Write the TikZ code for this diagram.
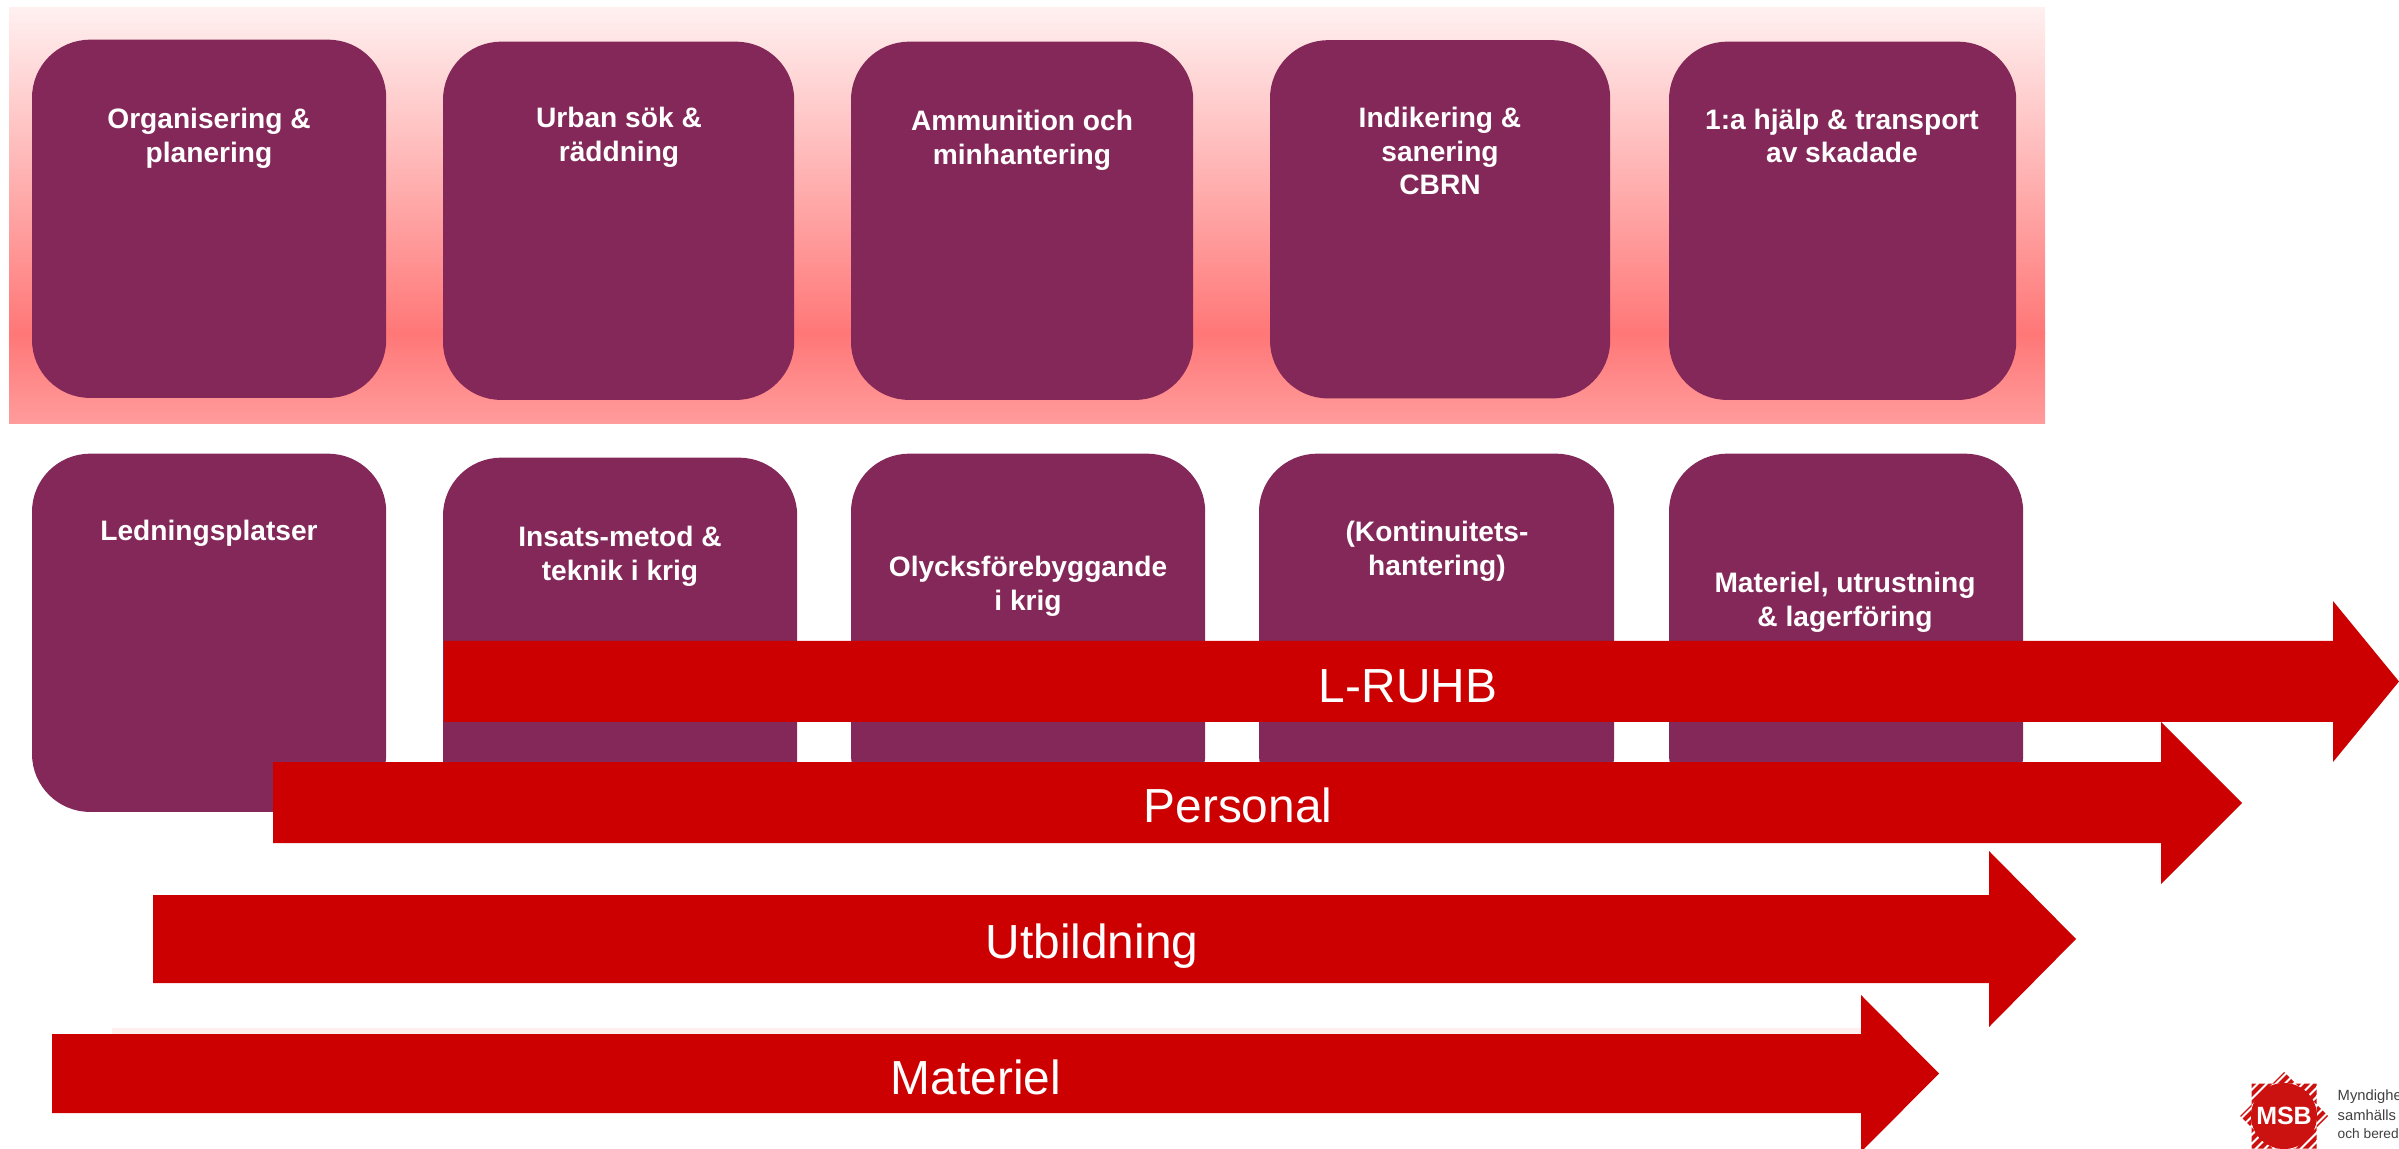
\documentclass[tikz,border=0pt]{standalone}
\usepackage{fontspec}
\setmainfont{Liberation Sans}
\definecolor{boxplum}{HTML}{832858}
\definecolor{arrowred}{HTML}{CC0000}
\definecolor{logored}{HTML}{CC1111}
\definecolor{bandtop}{HTML}{FFF0F0}
\definecolor{bandmid}{HTML}{FF7777}
\definecolor{bandlow}{HTML}{FF9C9C}
\tikzset{
	planbox/.style={fill=boxplum, rounded corners=0.58cm, anchor=north west, inner sep=0pt, minimum height=3.58cm},
	boxtext/.style={text=white, align=center, inner sep=0pt, font=\fontsize{8}{9.6}\selectfont\bfseries},
	arrowtext/.style={text=white, inner sep=0pt, font=\fontsize{13.6}{16}\selectfont},
	logotext/.style={text=black!75, anchor=west, inner sep=0pt, font=\fontsize{4.2}{5}\selectfont},
}

\begin{document}
\begin{tikzpicture}[x=0.01cm, y=-0.01cm]
	%%%%% START %%%%%
	\useasboundingbox (0, 0) rectangle (2399, 1149);
	\clip (0, 0) rectangle (2399, 1149);
	
	\shade[top color=bandtop, bottom color=bandmid] (9, 8) rectangle (2045, 334);
	\shade[top color=bandmid, bottom color=bandlow] (9, 333) rectangle (2045, 424);
	
	\node[planbox, minimum width=3.54cm] (org) at (31.3, 39) {};
	\node[planbox, minimum width=3.51cm] (urban) at (442.3, 41) {};
	\node[planbox, minimum width=3.42cm] (ammo) at (850.3, 41) {};
	\node[planbox, minimum width=3.40cm] (cbrn) at (1269.3, 39.5) {};
	\node[planbox, minimum width=3.47cm] (aid) at (1668.3, 41) {};
	
	\node[boxtext] (orgtext) at (209, 138) {Organisering \&\\planering};
	\node[boxtext] (urbantext) at (619, 137.5) {Urban sök \&\\räddning};
	\node[boxtext] (ammotext) at (1022, 140) {Ammunition och\\minhantering};
	\node[boxtext] (cbrntext) at (1440, 151) {Indikering \&\\sanering\\CBRN};
	\node[boxtext] (aidtext) at (1842, 136) {1:a hjälp \& transport\\av skadade};
	
	\node[planbox, minimum width=3.54cm] (lead) at (31.3, 453) {};
	\node[planbox, minimum width=3.54cm] (method) at (442.3, 457) {};
	\node[planbox, minimum width=3.54cm] (safety) at (850.3, 453) {};
	\node[planbox, minimum width=3.55cm] (cont) at (1258.3, 453) {};
	\node[planbox, minimum width=3.54cm] (gear) at (1668.3, 453) {};
	
	\node[boxtext] (leadtext) at (209, 533) {Ledningsplatser};
	\node[boxtext] (methodtext) at (620, 556) {Insats-metod \&\\teknik i krig};
	\node[boxtext] (safetytext) at (1028, 586) {Olycksförebyggande\\i krig};
	\node[boxtext] (conttext) at (1437, 551.5) {(Kontinuitets-\\hantering)};
	\node[boxtext] (geartext) at (1845, 602) {Materiel, utrustning\\\& lagerföring};
	
	\fill[arrowred] (444, 641) -- (2333, 641) -- (2333, 601) -- (2399, 681.5) -- (2333, 762) -- (2333, 722) -- (444, 722) -- cycle;
	\node[arrowtext] (ruhb) at (1408, 686) {L-RUHB};
	
	\fill[arrowred] (273, 762) -- (2161, 762) -- (2161, 722) -- (2242, 803) -- (2161, 884) -- (2161, 843) -- (273, 843) -- cycle;
	\node[arrowtext] (staff) at (1238, 805) {Personal};
	
	\fill[arrowred] (153, 895) -- (1989, 895) -- (1989, 851) -- (2076, 939) -- (1989, 1027) -- (1989, 983) -- (153, 983) -- cycle;
	\node[arrowtext] (course) at (1092, 946) {Utbildning};
	
	\fill[bandtop] (112, 1028) rectangle (1861, 1034);
	\fill[arrowred] (52, 1034) -- (1861, 1034) -- (1861, 995) -- (1939, 1073.5) -- (1861, 1152) -- (1861, 1113) -- (52, 1113) -- cycle;
	\node[arrowtext] (stock) at (976, 1077) {Materiel};
	
	\begin{scope}
		\clip (2251.5, 1083.5) rectangle (2316.5, 1148.5) (2284, 1072) -- (2328, 1116) -- (2284, 1160) -- (2240, 1116) -- cycle;
		\foreach \d in {-99, -90, ..., 99}
			\draw[logored, line width=0.04cm] (2184+\d, 1216) -- (2384+\d, 1016);
	\end{scope}
	\fill[logored] (2284, 1116) circle (33);
	\node[text=white, inner sep=0pt, font=\fontsize{7.1}{8}\selectfont\bfseries] (msb) at (2284, 1116) {MSB};
	
	\node[logotext] (logoa) at (2337, 1097) {Myndighe};
	\node[logotext] (logob) at (2337, 1115) {samhälls};
	\node[logotext, font=\fontsize{3.9}{5}\selectfont] (logoc) at (2337, 1134) {och bered};
	%%%%% END %%%%%
\end{tikzpicture}
\end{document}
